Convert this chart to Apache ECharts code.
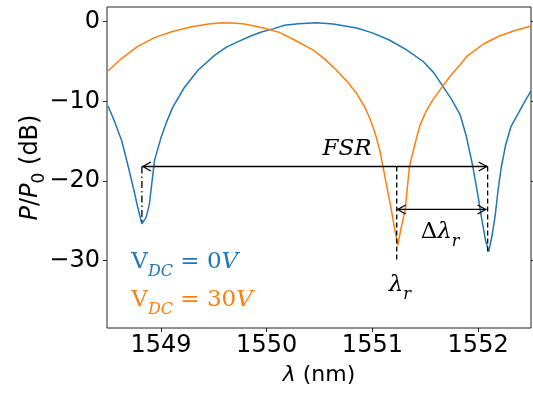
<!DOCTYPE html>
<html>
<head>
<meta charset="utf-8">
<script src="https://cdn.jsdelivr.net/npm/echarts@6/dist/echarts.min.js"></script>
<style>
  html, body { margin: 0; padding: 0; background: #fff; }
  #chart { width: 533px; height: 395px; }
</style>
</head>
<body>
<div id="chart"></div>
<script>
// transmission spectra, wavelength in nm, power in dB
var blueX = [1548.50, 1548.56, 1548.63, 1548.70, 1548.75, 1548.78, 1548.82, 1548.86, 1548.89, 1548.94,
  1549.00, 1549.06, 1549.11, 1549.22, 1549.35, 1549.51, 1549.62, 1549.73, 1549.85, 1549.95,
  1550.06, 1550.17, 1550.30, 1550.47, 1550.63, 1550.85, 1551.00, 1551.16, 1551.32, 1551.48,
  1551.58, 1551.67, 1551.75, 1551.83, 1551.89, 1551.95, 1552.00, 1552.03, 1552.07, 1552.10,
  1552.13, 1552.16, 1552.19, 1552.22, 1552.26, 1552.31, 1552.36, 1552.43, 1552.50];
var blueY = [-10.6, -12.5, -15.0, -18.7, -21.5, -23.3, -25.4, -24.6, -23.0, -17.4,
  -14.6, -12.4, -10.8, -8.3, -6.1, -4.2, -3.2, -2.5, -1.8, -1.3,
  -0.9, -0.45, -0.25, -0.13, -0.3, -0.8, -1.4, -2.3, -3.5, -5.0,
  -6.4, -8.2, -9.8, -11.7, -14.5, -18.2, -22.0, -24.5, -27.5, -28.9,
  -27.0, -24.5, -21.0, -18.2, -15.5, -13.2, -12.0, -10.3, -8.7];

var orangeX = [1548.50, 1548.63, 1548.78, 1548.94, 1549.10, 1549.29, 1549.45, 1549.57, 1549.68, 1549.79,
  1549.98, 1550.12, 1550.25, 1550.44, 1550.55, 1550.66, 1550.76, 1550.85, 1550.93, 1550.98,
  1551.03, 1551.07, 1551.10, 1551.14, 1551.18, 1551.21, 1551.24, 1551.27, 1551.31, 1551.35, 1551.40,
  1551.45, 1551.51, 1551.57, 1551.67, 1551.75, 1551.83, 1551.89, 1552.05, 1552.20, 1552.35, 1552.50];
var orangeY = [-6.2, -4.6, -3.1, -2.0, -1.26, -0.63, -0.3, -0.13, -0.15, -0.3,
  -0.83, -1.34, -2.2, -3.56, -4.7, -6.1, -7.5, -9.0, -10.8, -12.3,
  -14.2, -16.2, -18.2, -21.0, -23.7, -26.0, -28.1, -26.0, -23.7, -18.2, -15.5,
  -13.0, -11.2, -9.85, -8.0, -6.6, -5.4, -4.4, -2.8, -1.8, -1.1, -0.55];

var xTicks = [1549, 1550, 1551, 1552];
var yTicks = [-30, -20, -10, 0];

// annotation segments: x1, y1, x2, y2
var guideLines = [
  [1548.82, -18.2, 1552.09, -18.2],
  [1551.23, -23.6, 1552.08, -23.6],
  [1548.82, -18.2, 1548.82, -25.4],
  [1552.09, -18.2, 1552.09, -28.9],
  [1551.23, -18.2, 1551.23, -30.0]
];
var guideKinds = ["arrow", "arrow", "dashdot", "dashed", "dashed"];

var labelX = [1550.76, 1551.64, 1551.26, 1548.72, 1548.72];
var labelY = [-16.4, -26.8, -33.5, -30.6, -35.4];
var labelText = [
  "{i|FSR}",
  "{m|Δ}{i|λ}{s|r}",
  "{i|λ}{s|r}",
  "{m|V}{s|DC}{m| = 0}{i|V}",
  "{m|V}{s|DC}{m| = 30}{i|V}"
];
var labelColor = ["#000", "#000", "#000", "#1f77b4", "#ff7f0e"];
var labelAlign = ["center", "center", "center", "left", "left"];

function pairs(xs, ys) {
  return xs.map(function (x, i) { return [x, ys[i]]; });
}

function minus(v) {
  return String(v).replace("-", "\u2212");
}

var chart = echarts.init(document.getElementById("chart"));

var serif = "DejaVu Serif";
var sans = "DejaVu Sans";

var option = {
  animation: false,
  backgroundColor: "#fff",
  grid: {
    left: 107,
    right: 2,
    top: 7,
    bottom: 67,
    show: true,
    borderColor: "#222",
    borderWidth: 1
  },
  xAxis: {
    type: "value",
    position: "bottom",
    min: 1548.49,
    max: 1552.5,
    splitLine: { show: false },
    axisLine: { show: false, onZero: false },
    axisTick: { show: true, customValues: xTicks, length: 4, lineStyle: { color: "#222" } },
    axisLabel: {
      customValues: xTicks,
      color: "#000",
      fontFamily: sans,
      fontSize: 24,
      margin: 6,
      formatter: function (v) { return String(v); }
    },
    name: "{i|λ}{n| (nm)}",
    nameLocation: "middle",
    nameGap: 36,
    nameTextStyle: {
      color: "#000",
      rich: {
        i: { fontFamily: sans, fontStyle: "italic", fontSize: 22, color: "#000" },
        n: { fontFamily: sans, fontSize: 22, color: "#000" }
      }
    }
  },
  yAxis: [
    {
      type: "value",
      min: -38.5,
      max: 1.85,
      splitLine: { show: false },
      axisLine: { show: false, onZero: false },
      axisTick: { show: true, customValues: yTicks, length: 4, lineStyle: { color: "#222" } },
      axisLabel: {
        customValues: yTicks,
        color: "#000",
        fontFamily: sans,
        fontSize: 24,
        margin: 7,
        formatter: minus
      },
      name: "{i|P}{n|/}{i|P}{s|0}{n| (dB)}",
      nameLocation: "middle",
      nameRotate: 90,
      nameGap: 59,
      nameMoveOverlap: false,
      nameTextStyle: {
        color: "#000",
        rich: {
          i: { fontFamily: sans, fontStyle: "italic", fontSize: 24, color: "#000", verticalAlign: "bottom", padding: [0, 0, 5, 0] },
          n: { fontFamily: sans, fontSize: 24, color: "#000", verticalAlign: "bottom", padding: [0, 0, 5, 0] },
          s: { fontFamily: sans, fontSize: 17, color: "#000", verticalAlign: "bottom" }
        }
      }
    },
    {
      type: "value",
      position: "right",
      min: -38.5,
      max: 1.85,
      splitLine: { show: false },
      axisLine: { show: false, onZero: false },
      axisTick: { show: true, customValues: yTicks, length: 4, lineStyle: { color: "#222" } },
      axisLabel: { show: false }
    }
  ],
  series: [
    {
      name: "0V",
      type: "line",
      data: pairs(blueX, blueY),
      showSymbol: false,
      lineStyle: { color: "#1f77b4", width: 1.5 },
      itemStyle: { color: "#1f77b4" },
      z: 3
    },
    {
      name: "30V",
      type: "line",
      data: pairs(orangeX, orangeY),
      showSymbol: false,
      lineStyle: { color: "#ff7f0e", width: 1.5 },
      itemStyle: { color: "#ff7f0e" },
      z: 3
    },
    {
      type: "custom",
      silent: true,
      clip: false,
      z: 5,
      data: guideLines,
      encode: { x: [0, 2], y: [1, 3] },
      renderItem: function (params, api) {
        var g = guideLines[params.dataIndex];
        var kind = guideKinds[params.dataIndex];
        var p1 = api.coord([g[0], g[1]]);
        var p2 = api.coord([g[2], g[3]]);
        var dash = null;
        if (kind === "dashed") dash = [5, 3];
        if (kind === "dashdot") dash = [7, 3, 1.5, 3];
        var st = { stroke: "#000", lineWidth: 1.3, fill: null, lineDash: dash };
        var kids = [{ type: "line", shape: { x1: p1[0], y1: p1[1], x2: p2[0], y2: p2[1] }, style: st }];
        if (kind === "arrow") {
          var hs = { stroke: "#000", lineWidth: 1.3, fill: null };
          kids.push({ type: "polyline", shape: { points: [[p1[0] + 9, p1[1] - 4.5], [p1[0] + 1, p1[1]], [p1[0] + 9, p1[1] + 4.5]] }, style: hs });
          kids.push({ type: "polyline", shape: { points: [[p2[0] - 9, p2[1] - 4.5], [p2[0] - 1, p2[1]], [p2[0] - 9, p2[1] + 4.5]] }, style: hs });
        }
        return { type: "group", children: kids };
      }
    },
    {
      type: "custom",
      silent: true,
      clip: false,
      z: 6,
      data: pairs(labelX, labelY),
      renderItem: function (params, api) {
        var i = params.dataIndex;
        var p = api.coord([labelX[i], labelY[i]]);
        var c = labelColor[i];
        return {
          type: "text",
          x: p[0],
          y: p[1],
          style: {
            text: labelText[i],
            align: labelAlign[i],
            verticalAlign: "middle",
            fill: c,
            rich: {
              m: { fontFamily: serif, fontSize: 23, fill: c, verticalAlign: "bottom", padding: [0, 0, 6, 0] },
              i: { fontFamily: serif, fontStyle: "italic", fontSize: 23, fill: c, verticalAlign: "bottom", padding: [0, 0, 6, 0] },
              s: { fontFamily: serif, fontStyle: "italic", fontSize: 16, fill: c, verticalAlign: "bottom" }
            }
          }
        };
      }
    }
  ]
};

chart.setOption(option);
window.addEventListener("resize", chart.resize);
</script>
</body>
</html>
